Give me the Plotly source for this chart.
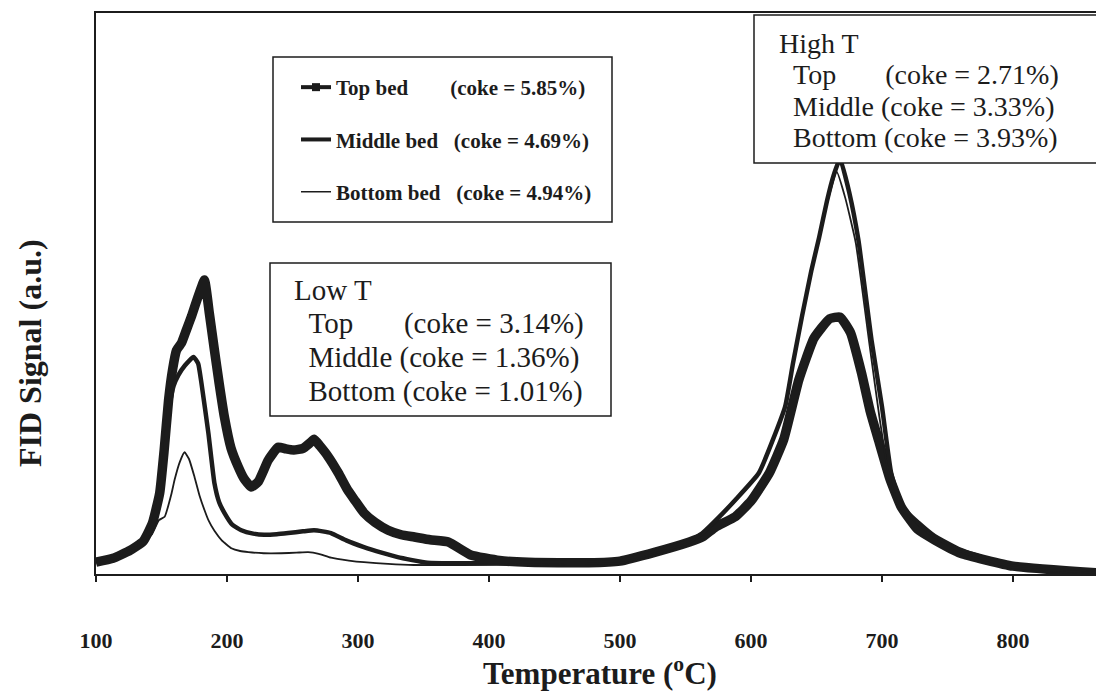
import plotly.graph_objects as go

# ---- FID signal traces (temperature in °C, signal in arbitrary units) ----
temp_top = [100, 113, 126, 136, 143, 148.6, 152, 155.4, 158.5, 161.5, 165.3, 169, 173, 178, 182.8,
            186.5, 190.4, 194, 198, 203, 208.6, 213, 218.5, 224, 231.5, 239, 245, 251, 258, 263,
            266.5, 271, 277, 285, 292, 298, 304.5, 313, 323, 333, 343, 355, 369, 386, 408,
            430, 476, 500, 527, 553, 563, 573, 588, 600, 614, 625, 636.5, 648, 660, 668,
            676, 684.4, 691, 697.3, 706, 714.8, 727, 740, 760, 800, 864]
signal_top = [2.1, 2.8, 4.2, 5.8, 9.0, 14.4, 22, 31.0, 36.5, 39.9, 41.2, 43.5, 46, 49.5, 52.4,
              46.5, 39.9, 34, 28, 22.5, 19.1, 17, 15.5, 16.5, 20.3, 22.6, 22.3, 22.1, 22.4, 23.3,
              24, 22.8, 21, 18, 15, 13, 10.9, 9.2, 7.8, 7.0, 6.6, 6.1, 5.7, 3.4, 2.4,
              2.1, 2.0, 2.3, 3.9, 5.7, 6.6, 8.4, 10.2, 13, 18.0, 24, 34.6, 42, 45.5, 45.8,
              43, 35.8, 29, 23.9, 17, 11.9, 8, 6.1, 3.7, 1.4, 0.2]

temp_mid = [100, 113, 126, 136, 143, 148, 153, 156.2, 159.2, 163, 168, 174.4, 178, 180.5, 185.8,
            190.4, 194, 198, 204, 210.9, 220, 228.4, 238, 246.7, 258, 266.4, 273, 279.4, 291, 304.5,
            318, 330.3, 353, 380, 420, 460, 500, 527, 553, 563, 575, 588, 606, 626, 632,
            639, 646, 652, 658, 663, 668, 675, 682, 692, 700, 707, 715, 728, 740, 760, 800, 864]
signal_mid = [2.1, 2.8, 4.0, 5.6, 8.5, 13, 22, 30, 33.5, 35.5, 37.2, 38.7, 37.5, 34, 25.1,
              16.2, 12.8, 10.9, 8.8, 7.8, 7.2, 7.0, 7.1, 7.3, 7.6, 7.8, 7.6, 7.3, 6.0, 4.8,
              3.8, 3.0, 2.0, 1.9, 1.9, 2.0, 2.2, 3.9, 5.8, 7.3, 10, 13.2, 18.0, 29.8, 37.5,
              46, 54, 60, 66.5, 71, 74, 68, 59.5, 41.7, 29.8, 18.0, 12, 9.1, 6.8, 4.3, 1.3, 0.2]

temp_bot = [100, 113, 126, 136, 143, 148, 152.4, 157.7, 160, 164, 167.6, 171, 175.2, 179, 182.8,
            186, 190.4, 196, 203.3, 210, 216.3, 228, 241.3, 253, 261.9, 270, 279.4, 293, 304.5, 323,
            342.5, 380, 420, 460, 500, 527, 553, 563, 575, 588, 606, 626, 632, 639, 646,
            652, 658, 665.4, 672, 680, 690, 698, 705, 713, 727, 740, 760, 800, 864]
signal_bot = [2.1, 2.8, 4.0, 5.5, 7.2, 9.6, 10.2, 14.4, 16.8, 20, 21.7, 20.5, 17.3, 14, 11.4,
              9.5, 7.7, 6.0, 4.6, 4.1, 3.9, 3.7, 3.7, 3.8, 3.9, 3.6, 2.9, 2.4, 2.1, 1.8,
              1.6, 1.6, 1.7, 1.8, 2.0, 3.7, 5.6, 7.1, 9.8, 13.0, 18.0, 29.8, 37.5, 46, 54,
              60, 66, 71.7, 67, 59, 41.7, 28, 18, 12, 9.0, 6.6, 4.0, 1.2, 0.2]

NB = "\u00a0"
legend_labels = [
    "Top bed" + NB * 8 + "(coke = 5.85%)",
    "Middle bed" + NB * 3 + "(coke = 4.69%)",
    "Bottom bed" + NB * 3 + "(coke = 4.94%)",
]
low_t_lines = [
    "Low T",
    NB + NB + "Top" + NB * 7 + "(coke = 3.14%)",
    NB + NB + "Middle (coke = 1.36%)",
    NB + NB + "Bottom (coke = 1.01%)",
]
high_t_lines = [
    "High T",
    NB + NB + "Top" + NB * 7 + "(coke = 2.71%)",
    NB + NB + "Middle" + NB + "(coke = 3.33%)",
    NB + NB + "Bottom (coke = 3.93%)",
]

tick_vals = [100, 200, 300, 400, 500, 600, 700, 800]
tick_text = ["100", "200", "300", "400", "500", "600", "700", "800"]

# ---- page geometry ----
W, H = 1096, 693
ML, MR, MT, MB = 96, 0, 13, 119
INK = "#1c1c1c"
SERIF = "Liberation Serif"


def fx(p):
    return (p - ML) / (W - ML - MR)


def fy(p):
    return (H - MB - p) / (H - MT - MB)


fig = go.Figure()

series = [
    (temp_top, signal_top, 9.5),
    (temp_mid, signal_mid, 4.5),
    (temp_bot, signal_bot, 1.8),
]
for xs, ys, w in series:
    fig.add_trace(go.Scatter(
        x=xs, y=ys, mode="lines", showlegend=False, hoverinfo="skip",
        line=dict(color=INK, width=w, shape="spline", smoothing=0.4),
    ))

# legend entries
legend_styles = [
    dict(mode="lines+markers", line=dict(color=INK, width=4),
         marker=dict(symbol="square", size=8, color=INK)),
    dict(mode="lines", line=dict(color=INK, width=4)),
    dict(mode="lines", line=dict(color=INK, width=1.5)),
]
for i, (lab, st) in enumerate(zip(legend_labels, legend_styles)):
    fig.add_trace(go.Scatter(x=[None], y=[None], name=lab, legendgroup=f"g{i}", **st))

frame = dict(color=INK, width=1.5)
shapes = [
    # legend frame
    dict(type="rect", xref="paper", yref="paper", x0=fx(273), x1=fx(612), y0=fy(222), y1=fy(57),
         line=frame, fillcolor="white", layer="above"),
    # Low T frame
    dict(type="rect", xref="paper", yref="paper", x0=fx(270), x1=fx(611), y0=fy(416), y1=fy(263),
         line=frame, fillcolor="white", layer="above"),
    # High T frame
    dict(type="rect", xref="paper", yref="paper", x0=fx(754), x1=fx(1120), y0=fy(163), y1=fy(15),
         line=frame, fillcolor="white", layer="above"),
]

ann = []


def text_at(px, py, s, font, anchor="left"):
    ann.append(dict(xref="paper", yref="paper", x=fx(px), y=fy(py), text=s,
                    showarrow=False, xanchor=anchor, yanchor="middle", font=font))


low_font = dict(family=SERIF, size=29, color=INK)
high_font = dict(family=SERIF, size=28, color=INK)
for s, yy in zip(low_t_lines, [290, 323, 357, 391]):
    text_at(292, yy, s, low_font)
for s, yy in zip(high_t_lines, [43, 74.5, 106, 137]):
    text_at(777, yy, s, high_font)

title_font = dict(family=SERIF, size=31, color=INK, weight="bold")
text_at(600, 671, "Temperature (<sup>o</sup>C)", title_font, anchor="center")
ann.append(dict(xref="paper", yref="paper", x=fx(30), y=fy(353), text="FID Signal (a.u.)",
                textangle=-90, showarrow=False, xanchor="center", yanchor="middle",
                font=dict(family=SERIF, size=32, color=INK, weight="bold")))

fig.update_layout(
    width=W, height=H,
    margin=dict(l=ML, r=MR, t=MT, b=MB, pad=0),
    paper_bgcolor="white", plot_bgcolor="white",
    shapes=shapes, annotations=ann,
    showlegend=True,
    legend=dict(x=fx(296), y=fy(67), xanchor="left", yanchor="top",
                bgcolor="rgba(0,0,0,0)", borderwidth=0, tracegroupgap=22,
                font=dict(family=SERIF, size=21, color=INK, weight="bold")),
    xaxis=dict(range=[100, 100 + (W - ML - MR) / 1.31], tickvals=tick_vals, ticktext=tick_text,
               showgrid=False, zeroline=False, showline=True, mirror=True,
               linecolor=INK, linewidth=2, ticks="outside", ticklen=6, tickwidth=1.5,
               tickcolor=INK, ticklabelstandoff=40,
               tickfont=dict(family=SERIF, size=22, color=INK, weight="bold")),
    yaxis=dict(range=[0, 100], showgrid=False, zeroline=False, showline=True,
               linecolor=INK, linewidth=2, showticklabels=False, ticks=""),
)

fig.write_html("out.html")
